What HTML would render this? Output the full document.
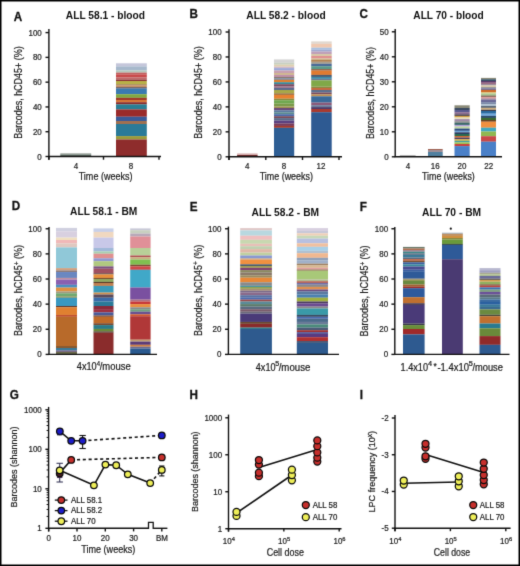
<!DOCTYPE html>
<html><head><meta charset="utf-8"><title>Figure</title>
<style>
html,body{margin:0;padding:0;background:#fff;}
body{width:520px;height:566px;overflow:hidden;}
svg{display:block;}
text{font-family:"Liberation Sans",sans-serif;}
text[font-weight="normal"],text:not([font-weight]){stroke:#1c1c1c;stroke-width:0.22px;}
</style></head>
<body>
<svg width="520" height="566" viewBox="0 0 520 566">
<defs><filter id="soft" x="0" y="0" width="520" height="566" filterUnits="userSpaceOnUse" color-interpolation-filters="sRGB"><feConvolveMatrix order="3" kernelMatrix="0.0121 0.0858 0.0121 0.0858 0.608 0.0858 0.0121 0.0858 0.0121" divisor="1" edgeMode="duplicate"/></filter></defs>
<g filter="url(#soft)">
<rect x="0" y="0" width="520" height="566" fill="#fff"/>
<text transform="translate(13.7,20.6) scale(0.9,1)" x="0" y="0" font-size="13.0" text-anchor="start" font-weight="bold" fill="#111" stroke="#111" stroke-width="0.3">A</text>
<text x="105.4" y="18.8" font-size="10" text-anchor="middle" font-weight="bold" fill="#111" textLength="79.2" lengthAdjust="spacingAndGlyphs" >ALL 58.1 - blood</text>
<text transform="translate(22.2,92.5) rotate(-90)" x="0" y="0" font-size="10.2" text-anchor="middle" fill="#1c1c1c" textLength="92.5" lengthAdjust="spacingAndGlyphs">Barcodes, hCD45+ (%)</text>
<rect x="60.30" y="153.30" width="30.90" height="1.25" fill="#9aa49c"/>
<rect x="60.30" y="154.50" width="30.90" height="2.05" fill="#5e6e64"/>
<rect x="116.00" y="63.30" width="30.80" height="3.15" fill="#c4c6da"/>
<rect x="116.00" y="66.40" width="30.80" height="4.05" fill="#a6b8cc"/>
<rect x="116.00" y="70.40" width="30.80" height="2.25" fill="#b4c8bc"/>
<rect x="116.00" y="72.60" width="30.80" height="1.75" fill="#c06060"/>
<rect x="116.00" y="74.30" width="30.80" height="3.15" fill="#c84a4a"/>
<rect x="116.00" y="77.40" width="30.80" height="2.25" fill="#c06868"/>
<rect x="116.00" y="79.60" width="30.80" height="1.45" fill="#8a3030"/>
<rect x="116.00" y="81.00" width="30.80" height="3.55" fill="#b8b048"/>
<rect x="116.00" y="84.50" width="30.80" height="0.95" fill="#8a5a30"/>
<rect x="116.00" y="85.40" width="30.80" height="1.85" fill="#c89060"/>
<rect x="116.00" y="87.20" width="30.80" height="1.35" fill="#5a4a50"/>
<rect x="116.00" y="88.50" width="30.80" height="5.75" fill="#3a7ab0"/>
<rect x="116.00" y="94.20" width="30.80" height="3.65" fill="#80a840"/>
<rect x="116.00" y="97.80" width="30.80" height="2.25" fill="#a03828"/>
<rect x="116.00" y="100.00" width="30.80" height="2.25" fill="#d87838"/>
<rect x="116.00" y="102.20" width="30.80" height="2.25" fill="#8a2a2a"/>
<rect x="116.00" y="104.40" width="30.80" height="5.05" fill="#2a7e94"/>
<rect x="116.00" y="109.40" width="30.80" height="7.35" fill="#9a2a2a"/>
<rect x="116.00" y="116.70" width="30.80" height="4.35" fill="#3a5a98"/>
<rect x="116.00" y="121.00" width="30.80" height="3.05" fill="#a07050"/>
<rect x="116.00" y="124.00" width="30.80" height="12.15" fill="#2a7a98"/>
<rect x="116.00" y="136.10" width="30.80" height="3.45" fill="#9a9a3a"/>
<rect x="116.00" y="139.50" width="30.80" height="17.05" fill="#8e2c2c"/>
<line x1="48.9" y1="29.0" x2="48.9" y2="159.7" stroke="#111" stroke-width="1.4" />
<line x1="45.5" y1="156.5" x2="48.9" y2="156.5" stroke="#111" stroke-width="1.4" />
<text transform="translate(41.8,159.5) scale(0.93,1)" x="0" y="0" font-size="8.6" text-anchor="end" font-weight="normal" fill="#1c1c1c" >0</text>
<line x1="45.5" y1="131.72" x2="48.9" y2="131.72" stroke="#111" stroke-width="1.4" />
<text transform="translate(41.8,134.72) scale(0.93,1)" x="0" y="0" font-size="8.6" text-anchor="end" font-weight="normal" fill="#1c1c1c" >20</text>
<line x1="45.5" y1="106.94" x2="48.9" y2="106.94" stroke="#111" stroke-width="1.4" />
<text transform="translate(41.8,109.94) scale(0.93,1)" x="0" y="0" font-size="8.6" text-anchor="end" font-weight="normal" fill="#1c1c1c" >40</text>
<line x1="45.5" y1="82.16" x2="48.9" y2="82.16" stroke="#111" stroke-width="1.4" />
<text transform="translate(41.8,85.16) scale(0.93,1)" x="0" y="0" font-size="8.6" text-anchor="end" font-weight="normal" fill="#1c1c1c" >60</text>
<line x1="45.5" y1="57.379999999999995" x2="48.9" y2="57.379999999999995" stroke="#111" stroke-width="1.4" />
<text transform="translate(41.8,60.379999999999995) scale(0.93,1)" x="0" y="0" font-size="8.6" text-anchor="end" font-weight="normal" fill="#1c1c1c" >80</text>
<line x1="45.5" y1="32.599999999999994" x2="48.9" y2="32.599999999999994" stroke="#111" stroke-width="1.4" />
<text transform="translate(41.8,35.599999999999994) scale(0.93,1)" x="0" y="0" font-size="8.6" text-anchor="end" font-weight="normal" fill="#1c1c1c" >100</text>
<line x1="48.3" y1="156.5" x2="161.0" y2="156.5" stroke="#111" stroke-width="1.4" />
<line x1="48.9" y1="156.5" x2="48.9" y2="159.7" stroke="#111" stroke-width="1.4" />
<line x1="103.5" y1="156.5" x2="103.5" y2="159.7" stroke="#111" stroke-width="1.4" />
<line x1="159.0" y1="156.5" x2="159.0" y2="159.7" stroke="#111" stroke-width="1.4" />
<text transform="translate(76.0,169.2) scale(0.93,1)" x="0" y="0" font-size="8.6" text-anchor="middle" font-weight="normal" fill="#1c1c1c" >4</text>
<text transform="translate(131.0,169.2) scale(0.93,1)" x="0" y="0" font-size="8.6" text-anchor="middle" font-weight="normal" fill="#1c1c1c" >8</text>
<text x="105.6" y="180.0" font-size="10.3" text-anchor="middle" font-weight="normal" fill="#1c1c1c" textLength="53.8" lengthAdjust="spacingAndGlyphs" >Time (weeks)</text>
<text transform="translate(189.6,17.8) scale(0.9,1)" x="0" y="0" font-size="13.0" text-anchor="start" font-weight="bold" fill="#111" stroke="#111" stroke-width="0.3">B</text>
<text x="286.0" y="18.5" font-size="10" text-anchor="middle" font-weight="bold" fill="#111" textLength="79.3" lengthAdjust="spacingAndGlyphs" >ALL 58.2 - blood</text>
<text transform="translate(202.0,92.5) rotate(-90)" x="0" y="0" font-size="10.2" text-anchor="middle" fill="#1c1c1c" textLength="92.5" lengthAdjust="spacingAndGlyphs">Barcodes, hCD45+ (%)</text>
<rect x="237.10" y="153.40" width="20.50" height="1.65" fill="#d8b0b0"/>
<rect x="237.10" y="155.00" width="20.50" height="1.85" fill="#6a2a2a"/>
<rect x="274.00" y="59.40" width="20.20" height="3.45" fill="#d4d4d4"/>
<rect x="274.00" y="62.80" width="20.20" height="1.95" fill="#c8d0c0"/>
<rect x="274.00" y="64.70" width="20.20" height="2.05" fill="#e0d0b0"/>
<rect x="274.00" y="66.70" width="20.20" height="1.45" fill="#d0b8c8"/>
<rect x="274.00" y="68.10" width="20.20" height="2.45" fill="#9aa8d8"/>
<rect x="274.00" y="70.50" width="20.20" height="2.55" fill="#c8a0b0"/>
<rect x="274.00" y="73.00" width="20.20" height="1.95" fill="#d0b890"/>
<rect x="274.00" y="74.90" width="20.20" height="2.05" fill="#c090a8"/>
<rect x="274.00" y="76.90" width="20.20" height="1.45" fill="#8a7a70"/>
<rect x="274.00" y="78.30" width="20.20" height="1.55" fill="#6a80a0"/>
<rect x="274.00" y="79.80" width="20.20" height="2.45" fill="#e08030"/>
<rect x="274.00" y="82.20" width="20.20" height="2.05" fill="#3a8a9a"/>
<rect x="274.00" y="84.20" width="20.20" height="1.95" fill="#7a4a60"/>
<rect x="274.00" y="86.10" width="20.20" height="1.95" fill="#a07890"/>
<rect x="274.00" y="88.00" width="20.20" height="2.05" fill="#5a6a90"/>
<rect x="274.00" y="90.00" width="20.20" height="3.45" fill="#a8a848"/>
<rect x="274.00" y="93.40" width="20.20" height="1.45" fill="#8a6030"/>
<rect x="274.00" y="94.80" width="20.20" height="3.95" fill="#e88030"/>
<rect x="274.00" y="98.70" width="20.20" height="1.55" fill="#8a8a40"/>
<rect x="274.00" y="100.20" width="20.20" height="3.45" fill="#70a850"/>
<rect x="274.00" y="103.60" width="20.20" height="2.95" fill="#7a9a48"/>
<rect x="274.00" y="106.50" width="20.20" height="1.55" fill="#a09050"/>
<rect x="274.00" y="108.00" width="20.20" height="2.35" fill="#6a4a7a"/>
<rect x="274.00" y="110.30" width="20.20" height="2.05" fill="#5a7aa0"/>
<rect x="274.00" y="112.30" width="20.20" height="1.95" fill="#5a8a90"/>
<rect x="274.00" y="114.20" width="20.20" height="2.05" fill="#4a6aa8"/>
<rect x="274.00" y="116.20" width="20.20" height="1.95" fill="#7a4a5a"/>
<rect x="274.00" y="118.10" width="20.20" height="2.45" fill="#5a6a88"/>
<rect x="274.00" y="120.50" width="20.20" height="3.05" fill="#5a4080"/>
<rect x="274.00" y="123.50" width="20.20" height="2.45" fill="#7a3a5a"/>
<rect x="274.00" y="125.90" width="20.20" height="1.95" fill="#a83a2a"/>
<rect x="274.00" y="127.80" width="20.20" height="29.05" fill="#2e5e94"/>
<rect x="311.20" y="41.40" width="20.50" height="2.45" fill="#e0d8d0"/>
<rect x="311.20" y="43.80" width="20.50" height="3.95" fill="#f0c8b0"/>
<rect x="311.20" y="47.70" width="20.50" height="2.05" fill="#a8c0e0"/>
<rect x="311.20" y="49.70" width="20.50" height="1.95" fill="#a0a8d0"/>
<rect x="311.20" y="51.60" width="20.50" height="2.45" fill="#c0a0b8"/>
<rect x="311.20" y="54.00" width="20.50" height="2.05" fill="#d8c8a8"/>
<rect x="311.20" y="56.00" width="20.50" height="2.45" fill="#e09090"/>
<rect x="311.20" y="58.40" width="20.50" height="1.55" fill="#d0b890"/>
<rect x="311.20" y="59.90" width="20.50" height="1.95" fill="#b08050"/>
<rect x="311.20" y="61.80" width="20.50" height="2.05" fill="#a8a090"/>
<rect x="311.20" y="63.80" width="20.50" height="2.45" fill="#4a6a98"/>
<rect x="311.20" y="66.20" width="20.50" height="2.95" fill="#5a9a8a"/>
<rect x="311.20" y="69.10" width="20.50" height="1.55" fill="#8a5a40"/>
<rect x="311.20" y="70.60" width="20.50" height="4.35" fill="#e07a30"/>
<rect x="311.20" y="74.90" width="20.50" height="2.05" fill="#4a5a70"/>
<rect x="311.20" y="76.90" width="20.50" height="1.95" fill="#3a8aa8"/>
<rect x="311.20" y="78.80" width="20.50" height="1.55" fill="#6a7a98"/>
<rect x="311.20" y="80.30" width="20.50" height="6.35" fill="#80a848"/>
<rect x="311.20" y="86.60" width="20.50" height="1.45" fill="#8a8a40"/>
<rect x="311.20" y="88.00" width="20.50" height="2.05" fill="#c86a40"/>
<rect x="311.20" y="90.00" width="20.50" height="2.55" fill="#5a7090"/>
<rect x="311.20" y="92.50" width="20.50" height="1.95" fill="#7a4a5a"/>
<rect x="311.20" y="94.40" width="20.50" height="1.95" fill="#c09050"/>
<rect x="311.20" y="96.30" width="20.50" height="6.35" fill="#3a6a9a"/>
<rect x="311.20" y="102.60" width="20.50" height="2.65" fill="#8a5a7a"/>
<rect x="311.20" y="105.20" width="20.50" height="1.95" fill="#6a7a98"/>
<rect x="311.20" y="107.10" width="20.50" height="1.95" fill="#4a3a6a"/>
<rect x="311.20" y="109.00" width="20.50" height="3.25" fill="#a83a30"/>
<rect x="311.20" y="112.20" width="20.50" height="44.65" fill="#2e5a92"/>
<line x1="229.0" y1="29.3" x2="229.0" y2="160.0" stroke="#111" stroke-width="1.4" />
<line x1="225.6" y1="156.8" x2="229.0" y2="156.8" stroke="#111" stroke-width="1.4" />
<text transform="translate(221.6,159.8) scale(0.93,1)" x="0" y="0" font-size="8.6" text-anchor="end" font-weight="normal" fill="#1c1c1c" >0</text>
<line x1="225.6" y1="131.84" x2="229.0" y2="131.84" stroke="#111" stroke-width="1.4" />
<text transform="translate(221.6,134.84) scale(0.93,1)" x="0" y="0" font-size="8.6" text-anchor="end" font-weight="normal" fill="#1c1c1c" >20</text>
<line x1="225.6" y1="106.88" x2="229.0" y2="106.88" stroke="#111" stroke-width="1.4" />
<text transform="translate(221.6,109.88) scale(0.93,1)" x="0" y="0" font-size="8.6" text-anchor="end" font-weight="normal" fill="#1c1c1c" >40</text>
<line x1="225.6" y1="81.92" x2="229.0" y2="81.92" stroke="#111" stroke-width="1.4" />
<text transform="translate(221.6,84.92) scale(0.93,1)" x="0" y="0" font-size="8.6" text-anchor="end" font-weight="normal" fill="#1c1c1c" >60</text>
<line x1="225.6" y1="56.959999999999994" x2="229.0" y2="56.959999999999994" stroke="#111" stroke-width="1.4" />
<text transform="translate(221.6,59.959999999999994) scale(0.93,1)" x="0" y="0" font-size="8.6" text-anchor="end" font-weight="normal" fill="#1c1c1c" >80</text>
<line x1="225.6" y1="31.999999999999986" x2="229.0" y2="31.999999999999986" stroke="#111" stroke-width="1.4" />
<text transform="translate(221.6,34.999999999999986) scale(0.93,1)" x="0" y="0" font-size="8.6" text-anchor="end" font-weight="normal" fill="#1c1c1c" >100</text>
<line x1="228.4" y1="156.8" x2="342.0" y2="156.8" stroke="#111" stroke-width="1.4" />
<line x1="229.0" y1="156.8" x2="229.0" y2="160.0" stroke="#111" stroke-width="1.4" />
<line x1="265.8" y1="156.8" x2="265.8" y2="160.0" stroke="#111" stroke-width="1.4" />
<line x1="302.5" y1="156.8" x2="302.5" y2="160.0" stroke="#111" stroke-width="1.4" />
<line x1="339.0" y1="156.8" x2="339.0" y2="160.0" stroke="#111" stroke-width="1.4" />
<text transform="translate(247.3,169.2) scale(0.93,1)" x="0" y="0" font-size="8.6" text-anchor="middle" font-weight="normal" fill="#1c1c1c" >4</text>
<text transform="translate(284.0,169.2) scale(0.93,1)" x="0" y="0" font-size="8.6" text-anchor="middle" font-weight="normal" fill="#1c1c1c" >8</text>
<text transform="translate(321.0,169.2) scale(0.93,1)" x="0" y="0" font-size="8.6" text-anchor="middle" font-weight="normal" fill="#1c1c1c" >12</text>
<text x="286.3" y="180.0" font-size="10.3" text-anchor="middle" font-weight="normal" fill="#1c1c1c" textLength="53.2" lengthAdjust="spacingAndGlyphs" >Time (weeks)</text>
<text transform="translate(359.6,17.7) scale(0.9,1)" x="0" y="0" font-size="13.0" text-anchor="start" font-weight="bold" fill="#111" stroke="#111" stroke-width="0.3">C</text>
<text x="448.5" y="18.5" font-size="10" text-anchor="middle" font-weight="bold" fill="#111" textLength="70.4" lengthAdjust="spacingAndGlyphs" >ALL 70 - blood</text>
<text transform="translate(373.6,93.1) rotate(-90)" x="0" y="0" font-size="10.2" text-anchor="middle" fill="#1c1c1c" textLength="92.0" lengthAdjust="spacingAndGlyphs">Barcodes, hCD45+ (%)</text>
<rect x="399.80" y="155.60" width="15.80" height="1.25" fill="#505050"/>
<rect x="428.00" y="149.00" width="14.70" height="1.05" fill="#a06050"/>
<rect x="428.00" y="150.00" width="14.70" height="2.05" fill="#a09098"/>
<rect x="428.00" y="152.00" width="14.70" height="4.85" fill="#5080a0"/>
<rect x="454.50" y="105.30" width="15.20" height="2.75" fill="#8a8a78"/>
<rect x="454.50" y="108.00" width="15.20" height="2.05" fill="#3a4a60"/>
<rect x="454.50" y="110.00" width="15.20" height="2.25" fill="#5a5a90"/>
<rect x="454.50" y="112.20" width="15.20" height="2.15" fill="#8a6a90"/>
<rect x="454.50" y="114.30" width="15.20" height="1.65" fill="#4a4050"/>
<rect x="454.50" y="115.90" width="15.20" height="1.65" fill="#d0a040"/>
<rect x="454.50" y="117.50" width="15.20" height="1.65" fill="#e8e0c0"/>
<rect x="454.50" y="119.10" width="15.20" height="2.15" fill="#a08aa8"/>
<rect x="454.50" y="121.20" width="15.20" height="1.65" fill="#8a8a8a"/>
<rect x="454.50" y="122.80" width="15.20" height="2.15" fill="#3a6a6a"/>
<rect x="454.50" y="124.90" width="15.20" height="1.65" fill="#b0a0d8"/>
<rect x="454.50" y="126.50" width="15.20" height="2.15" fill="#c0d8a0"/>
<rect x="454.50" y="128.60" width="15.20" height="2.25" fill="#2a4a80"/>
<rect x="454.50" y="130.80" width="15.20" height="1.55" fill="#70a8d8"/>
<rect x="454.50" y="132.30" width="15.20" height="1.75" fill="#2a3a60"/>
<rect x="454.50" y="134.00" width="15.20" height="2.05" fill="#2a6a50"/>
<rect x="454.50" y="136.00" width="15.20" height="1.65" fill="#d06a30"/>
<rect x="454.50" y="137.60" width="15.20" height="1.65" fill="#4a3a60"/>
<rect x="454.50" y="139.20" width="15.20" height="1.65" fill="#d8b040"/>
<rect x="454.50" y="140.80" width="15.20" height="1.65" fill="#40a0a0"/>
<rect x="454.50" y="142.40" width="15.20" height="1.65" fill="#a0c050"/>
<rect x="454.50" y="144.00" width="15.20" height="2.15" fill="#c84040"/>
<rect x="454.50" y="146.10" width="15.20" height="10.75" fill="#4a80c8"/>
<rect x="481.00" y="77.90" width="15.00" height="1.45" fill="#8a8a78"/>
<rect x="481.00" y="79.30" width="15.00" height="1.65" fill="#2a4a60"/>
<rect x="481.00" y="80.90" width="15.00" height="1.75" fill="#5a3a6a"/>
<rect x="481.00" y="82.60" width="15.00" height="1.25" fill="#8a4a6a"/>
<rect x="481.00" y="83.80" width="15.00" height="1.65" fill="#9a8a9a"/>
<rect x="481.00" y="85.40" width="15.00" height="1.65" fill="#d8c8a8"/>
<rect x="481.00" y="87.00" width="15.00" height="1.35" fill="#9a9a9a"/>
<rect x="481.00" y="88.30" width="15.00" height="1.65" fill="#6a6a98"/>
<rect x="481.00" y="89.90" width="15.00" height="2.45" fill="#d06a28"/>
<rect x="481.00" y="92.30" width="15.00" height="1.25" fill="#d8c070"/>
<rect x="481.00" y="93.50" width="15.00" height="2.15" fill="#a8c890"/>
<rect x="481.00" y="95.60" width="15.00" height="1.25" fill="#6a4a3a"/>
<rect x="481.00" y="96.80" width="15.00" height="1.65" fill="#e0a0a0"/>
<rect x="481.00" y="98.40" width="15.00" height="1.25" fill="#a07a8a"/>
<rect x="481.00" y="99.60" width="15.00" height="2.55" fill="#6a6a98"/>
<rect x="481.00" y="102.10" width="15.00" height="2.05" fill="#7a8aa8"/>
<rect x="481.00" y="104.10" width="15.00" height="2.05" fill="#b0c0d0"/>
<rect x="481.00" y="106.10" width="15.00" height="1.75" fill="#4a5a6a"/>
<rect x="481.00" y="107.80" width="15.00" height="2.05" fill="#d0b080"/>
<rect x="481.00" y="109.80" width="15.00" height="1.25" fill="#3a3a4a"/>
<rect x="481.00" y="111.00" width="15.00" height="2.75" fill="#2a6aa0"/>
<rect x="481.00" y="113.70" width="15.00" height="2.15" fill="#70a8e0"/>
<rect x="481.00" y="115.80" width="15.00" height="2.15" fill="#2a4a6a"/>
<rect x="481.00" y="117.90" width="15.00" height="2.15" fill="#3a6a30"/>
<rect x="481.00" y="120.00" width="15.00" height="1.75" fill="#6a4020"/>
<rect x="481.00" y="121.70" width="15.00" height="6.05" fill="#f09040"/>
<rect x="481.00" y="127.70" width="15.00" height="3.85" fill="#40a8c0"/>
<rect x="481.00" y="131.50" width="15.00" height="4.75" fill="#90b850"/>
<rect x="481.00" y="136.20" width="15.00" height="5.55" fill="#c84848"/>
<rect x="481.00" y="141.70" width="15.00" height="15.15" fill="#4a80c8"/>
<line x1="395.2" y1="29.0" x2="395.2" y2="156.8" stroke="#111" stroke-width="1.4" />
<line x1="391.8" y1="156.8" x2="395.2" y2="156.8" stroke="#111" stroke-width="1.4" />
<text transform="translate(388.6,159.8) scale(0.93,1)" x="0" y="0" font-size="8.6" text-anchor="end" font-weight="normal" fill="#1c1c1c" >0</text>
<line x1="391.8" y1="131.8" x2="395.2" y2="131.8" stroke="#111" stroke-width="1.4" />
<text transform="translate(388.6,134.8) scale(0.93,1)" x="0" y="0" font-size="8.6" text-anchor="end" font-weight="normal" fill="#1c1c1c" >10</text>
<line x1="391.8" y1="106.80000000000001" x2="395.2" y2="106.80000000000001" stroke="#111" stroke-width="1.4" />
<text transform="translate(388.6,109.80000000000001) scale(0.93,1)" x="0" y="0" font-size="8.6" text-anchor="end" font-weight="normal" fill="#1c1c1c" >20</text>
<line x1="391.8" y1="81.8" x2="395.2" y2="81.8" stroke="#111" stroke-width="1.4" />
<text transform="translate(388.6,84.8) scale(0.93,1)" x="0" y="0" font-size="8.6" text-anchor="end" font-weight="normal" fill="#1c1c1c" >30</text>
<line x1="391.8" y1="56.8" x2="395.2" y2="56.8" stroke="#111" stroke-width="1.4" />
<text transform="translate(388.6,59.8) scale(0.93,1)" x="0" y="0" font-size="8.6" text-anchor="end" font-weight="normal" fill="#1c1c1c" >40</text>
<line x1="391.8" y1="31.799999999999983" x2="395.2" y2="31.799999999999983" stroke="#111" stroke-width="1.4" />
<text transform="translate(388.6,34.79999999999998) scale(0.93,1)" x="0" y="0" font-size="8.6" text-anchor="end" font-weight="normal" fill="#1c1c1c" >50</text>
<line x1="394.59999999999997" y1="156.8" x2="502.0" y2="156.8" stroke="#111" stroke-width="1.4" />
<text transform="translate(407.9,169.2) scale(0.93,1)" x="0" y="0" font-size="8.6" text-anchor="middle" font-weight="normal" fill="#1c1c1c" >4</text>
<text transform="translate(435.2,169.2) scale(0.93,1)" x="0" y="0" font-size="8.6" text-anchor="middle" font-weight="normal" fill="#1c1c1c" >16</text>
<text transform="translate(462.0,169.2) scale(0.93,1)" x="0" y="0" font-size="8.6" text-anchor="middle" font-weight="normal" fill="#1c1c1c" >20</text>
<text transform="translate(488.7,169.2) scale(0.93,1)" x="0" y="0" font-size="8.6" text-anchor="middle" font-weight="normal" fill="#1c1c1c" >22</text>
<text x="448.4" y="180.0" font-size="10.3" text-anchor="middle" font-weight="normal" fill="#1c1c1c" textLength="52.8" lengthAdjust="spacingAndGlyphs" >Time (weeks)</text>
<text transform="translate(11.7,210.0) scale(0.9,1)" x="0" y="0" font-size="13.0" text-anchor="start" font-weight="bold" fill="#111" stroke="#111" stroke-width="0.3">D</text>
<text x="103.7" y="215.4" font-size="10" text-anchor="middle" font-weight="bold" fill="#111" textLength="67.3" lengthAdjust="spacingAndGlyphs" >ALL 58.1 - BM</text>
<text transform="translate(22.2,290.55) rotate(-90)" x="0" y="0" font-size="10.2" text-anchor="middle" fill="#1c1c1c" textLength="91.1" lengthAdjust="spacingAndGlyphs">Barcodes, hCD45<tspan font-size="7.2" dy="-3.4">+</tspan><tspan dy="3.4"> (%)</tspan></text>
<rect x="56.00" y="227.90" width="21.00" height="3.45" fill="#d0d0e0"/>
<rect x="56.00" y="231.30" width="21.00" height="6.35" fill="#d8d0e0"/>
<rect x="56.00" y="237.60" width="21.00" height="2.45" fill="#f0e0c0"/>
<rect x="56.00" y="240.00" width="21.00" height="3.45" fill="#f0b8b8"/>
<rect x="56.00" y="243.40" width="21.00" height="4.05" fill="#e0c8c0"/>
<rect x="56.00" y="247.40" width="21.00" height="20.75" fill="#90c8d8"/>
<rect x="56.00" y="268.10" width="21.00" height="2.35" fill="#d0a080"/>
<rect x="56.00" y="270.40" width="21.00" height="1.75" fill="#8a7a7a"/>
<rect x="56.00" y="272.10" width="21.00" height="1.85" fill="#6080c0"/>
<rect x="56.00" y="273.90" width="21.00" height="4.05" fill="#6a88c0"/>
<rect x="56.00" y="277.90" width="21.00" height="1.75" fill="#c090a0"/>
<rect x="56.00" y="279.60" width="21.00" height="5.25" fill="#8a60b0"/>
<rect x="56.00" y="284.80" width="21.00" height="2.85" fill="#4a90c0"/>
<rect x="56.00" y="287.60" width="21.00" height="3.85" fill="#e09040"/>
<rect x="56.00" y="291.40" width="21.00" height="1.95" fill="#a09a80"/>
<rect x="56.00" y="293.30" width="21.00" height="3.25" fill="#70a870"/>
<rect x="56.00" y="296.50" width="21.00" height="1.25" fill="#8a8a40"/>
<rect x="56.00" y="297.70" width="21.00" height="8.35" fill="#3a98c0"/>
<rect x="56.00" y="306.00" width="21.00" height="1.35" fill="#6a3a2a"/>
<rect x="56.00" y="307.30" width="21.00" height="7.65" fill="#e08030"/>
<rect x="56.00" y="314.90" width="21.00" height="1.95" fill="#c05030"/>
<rect x="56.00" y="316.80" width="21.00" height="29.25" fill="#b86a2a"/>
<rect x="56.00" y="346.00" width="21.00" height="2.05" fill="#8a5a30"/>
<rect x="56.00" y="348.00" width="21.00" height="2.55" fill="#3a7a98"/>
<rect x="56.00" y="350.50" width="21.00" height="1.35" fill="#6a5080"/>
<rect x="56.00" y="351.80" width="21.00" height="2.65" fill="#6a6a4a"/>
<rect x="93.50" y="228.40" width="20.00" height="3.55" fill="#c8d0e8"/>
<rect x="93.50" y="231.90" width="20.00" height="5.75" fill="#f0d8c0"/>
<rect x="93.50" y="237.60" width="20.00" height="10.45" fill="#c8c8e8"/>
<rect x="93.50" y="248.00" width="20.00" height="3.45" fill="#a0b8d8"/>
<rect x="93.50" y="251.40" width="20.00" height="2.35" fill="#a8d0b0"/>
<rect x="93.50" y="253.70" width="20.00" height="4.65" fill="#e09090"/>
<rect x="93.50" y="258.30" width="20.00" height="2.95" fill="#9098d0"/>
<rect x="93.50" y="261.20" width="20.00" height="5.25" fill="#b0c880"/>
<rect x="93.50" y="266.40" width="20.00" height="2.35" fill="#7a5080"/>
<rect x="93.50" y="268.70" width="20.00" height="4.65" fill="#a05060"/>
<rect x="93.50" y="273.30" width="20.00" height="1.15" fill="#5a3a3a"/>
<rect x="93.50" y="274.40" width="20.00" height="3.55" fill="#e8903a"/>
<rect x="93.50" y="277.90" width="20.00" height="1.15" fill="#7a5030"/>
<rect x="93.50" y="279.00" width="20.00" height="2.95" fill="#90a860"/>
<rect x="93.50" y="281.90" width="20.00" height="1.15" fill="#5a3a2a"/>
<rect x="93.50" y="283.00" width="20.00" height="2.95" fill="#c08050"/>
<rect x="93.50" y="285.90" width="20.00" height="6.75" fill="#3a9ab8"/>
<rect x="93.50" y="292.60" width="20.00" height="1.95" fill="#d09050"/>
<rect x="93.50" y="294.50" width="20.00" height="3.25" fill="#5a4a5a"/>
<rect x="93.50" y="297.70" width="20.00" height="3.85" fill="#3a6aa8"/>
<rect x="93.50" y="301.50" width="20.00" height="4.55" fill="#2a7a98"/>
<rect x="93.50" y="306.00" width="20.00" height="3.85" fill="#8a2a3a"/>
<rect x="93.50" y="309.80" width="20.00" height="2.65" fill="#a03040"/>
<rect x="93.50" y="312.40" width="20.00" height="3.15" fill="#4a5a98"/>
<rect x="93.50" y="315.50" width="20.00" height="1.35" fill="#7a4a30"/>
<rect x="93.50" y="316.80" width="20.00" height="6.45" fill="#c06a28"/>
<rect x="93.50" y="323.20" width="20.00" height="1.95" fill="#7a4a30"/>
<rect x="93.50" y="325.10" width="20.00" height="3.85" fill="#2a7a88"/>
<rect x="93.50" y="328.90" width="20.00" height="2.55" fill="#6a8a3a"/>
<rect x="93.50" y="331.40" width="20.00" height="1.35" fill="#4a3a2a"/>
<rect x="93.50" y="332.70" width="20.00" height="21.75" fill="#8a2c2c"/>
<rect x="130.20" y="228.40" width="20.40" height="1.85" fill="#c8c8d8"/>
<rect x="130.20" y="230.20" width="20.40" height="3.45" fill="#c8d0c0"/>
<rect x="130.20" y="233.60" width="20.40" height="2.95" fill="#b8a8b8"/>
<rect x="130.20" y="236.50" width="20.40" height="11.55" fill="#e09098"/>
<rect x="130.20" y="248.00" width="20.40" height="7.55" fill="#b8d098"/>
<rect x="130.20" y="255.50" width="20.40" height="1.75" fill="#b05050"/>
<rect x="130.20" y="257.20" width="20.40" height="2.35" fill="#c8b080"/>
<rect x="130.20" y="259.50" width="20.40" height="5.25" fill="#80c050"/>
<rect x="130.20" y="264.70" width="20.40" height="1.75" fill="#7a4a30"/>
<rect x="130.20" y="266.40" width="20.40" height="3.45" fill="#d04848"/>
<rect x="130.20" y="269.80" width="20.40" height="17.75" fill="#40a8c8"/>
<rect x="130.20" y="287.50" width="20.40" height="12.15" fill="#7a50a0"/>
<rect x="130.20" y="299.60" width="20.40" height="1.95" fill="#b07080"/>
<rect x="130.20" y="301.50" width="20.40" height="2.65" fill="#c83838"/>
<rect x="130.20" y="304.10" width="20.40" height="3.25" fill="#e89040"/>
<rect x="130.20" y="307.30" width="20.40" height="1.95" fill="#8a8a8a"/>
<rect x="130.20" y="309.20" width="20.40" height="2.55" fill="#70a080"/>
<rect x="130.20" y="311.70" width="20.40" height="2.65" fill="#6a5090"/>
<rect x="130.20" y="314.30" width="20.40" height="1.95" fill="#d05a30"/>
<rect x="130.20" y="316.20" width="20.40" height="23.55" fill="#b03838"/>
<rect x="130.20" y="339.70" width="20.40" height="1.95" fill="#c0a070"/>
<rect x="130.20" y="341.60" width="20.40" height="3.25" fill="#5a3a78"/>
<rect x="130.20" y="344.80" width="20.40" height="1.95" fill="#d08040"/>
<rect x="130.20" y="346.70" width="20.40" height="1.95" fill="#6a6a90"/>
<rect x="130.20" y="348.60" width="20.40" height="5.85" fill="#2a5a90"/>
<line x1="49.0" y1="227.0" x2="49.0" y2="354.4" stroke="#111" stroke-width="1.4" />
<line x1="45.6" y1="354.4" x2="49.0" y2="354.4" stroke="#111" stroke-width="1.4" />
<text transform="translate(41.6,357.4) scale(0.93,1)" x="0" y="0" font-size="8.6" text-anchor="end" font-weight="normal" fill="#1c1c1c" >0</text>
<line x1="45.6" y1="329.27" x2="49.0" y2="329.27" stroke="#111" stroke-width="1.4" />
<text transform="translate(41.6,332.27) scale(0.93,1)" x="0" y="0" font-size="8.6" text-anchor="end" font-weight="normal" fill="#1c1c1c" >20</text>
<line x1="45.6" y1="304.14" x2="49.0" y2="304.14" stroke="#111" stroke-width="1.4" />
<text transform="translate(41.6,307.14) scale(0.93,1)" x="0" y="0" font-size="8.6" text-anchor="end" font-weight="normal" fill="#1c1c1c" >40</text>
<line x1="45.6" y1="279.01" x2="49.0" y2="279.01" stroke="#111" stroke-width="1.4" />
<text transform="translate(41.6,282.01) scale(0.93,1)" x="0" y="0" font-size="8.6" text-anchor="end" font-weight="normal" fill="#1c1c1c" >60</text>
<line x1="45.6" y1="253.88" x2="49.0" y2="253.88" stroke="#111" stroke-width="1.4" />
<text transform="translate(41.6,256.88) scale(0.93,1)" x="0" y="0" font-size="8.6" text-anchor="end" font-weight="normal" fill="#1c1c1c" >80</text>
<line x1="45.6" y1="228.75" x2="49.0" y2="228.75" stroke="#111" stroke-width="1.4" />
<text transform="translate(41.6,231.75) scale(0.93,1)" x="0" y="0" font-size="8.6" text-anchor="end" font-weight="normal" fill="#1c1c1c" >100</text>
<line x1="48.4" y1="354.4" x2="157.0" y2="354.4" stroke="#111" stroke-width="1.4" />
<text x="76.79" y="370.4" font-size="10.2" fill="#1c1c1c" textLength="19.92" lengthAdjust="spacingAndGlyphs">4x10</text>
<text x="96.77" y="366.0" font-size="6.6" fill="#1c1c1c" textLength="3.36" lengthAdjust="spacingAndGlyphs">4</text>
<text x="99.69" y="370.4" font-size="10.2" fill="#1c1c1c" textLength="31.02" lengthAdjust="spacingAndGlyphs">/mouse</text>
<text transform="translate(189.8,210.6) scale(0.9,1)" x="0" y="0" font-size="13.0" text-anchor="start" font-weight="bold" fill="#111" stroke="#111" stroke-width="0.3">E</text>
<text x="285.3" y="215.8" font-size="10" text-anchor="middle" font-weight="bold" fill="#111" textLength="67.5" lengthAdjust="spacingAndGlyphs" >ALL 58.2 - BM</text>
<text transform="translate(201.7,290.4) rotate(-90)" x="0" y="0" font-size="10.2" text-anchor="middle" fill="#1c1c1c" textLength="91.1" lengthAdjust="spacingAndGlyphs">Barcodes, hCD45<tspan font-size="7.2" dy="-3.4">+</tspan><tspan dy="3.4"> (%)</tspan></text>
<rect x="240.20" y="228.10" width="31.70" height="2.35" fill="#e0c8c8"/>
<rect x="240.20" y="230.40" width="31.70" height="5.35" fill="#b8d8e0"/>
<rect x="240.20" y="235.70" width="31.70" height="4.15" fill="#f0c0c0"/>
<rect x="240.20" y="239.80" width="31.70" height="4.05" fill="#c8d8b0"/>
<rect x="240.20" y="243.80" width="31.70" height="2.45" fill="#e8c0b8"/>
<rect x="240.20" y="246.20" width="31.70" height="2.95" fill="#c0d0b0"/>
<rect x="240.20" y="249.10" width="31.70" height="3.55" fill="#e0b8a8"/>
<rect x="240.20" y="252.60" width="31.70" height="2.95" fill="#c0d0a0"/>
<rect x="240.20" y="255.50" width="31.70" height="2.95" fill="#8898d0"/>
<rect x="240.20" y="258.40" width="31.70" height="1.25" fill="#c0a080"/>
<rect x="240.20" y="259.60" width="31.70" height="4.75" fill="#f09040"/>
<rect x="240.20" y="264.30" width="31.70" height="1.75" fill="#4a5a6a"/>
<rect x="240.20" y="266.00" width="31.70" height="1.85" fill="#a0a050"/>
<rect x="240.20" y="267.80" width="31.70" height="2.35" fill="#804070"/>
<rect x="240.20" y="270.10" width="31.70" height="2.35" fill="#8a8a60"/>
<rect x="240.20" y="272.40" width="31.70" height="2.95" fill="#8a7a6a"/>
<rect x="240.20" y="275.30" width="31.70" height="2.45" fill="#9a8a60"/>
<rect x="240.20" y="277.70" width="31.70" height="4.65" fill="#e88838"/>
<rect x="240.20" y="282.30" width="31.70" height="3.55" fill="#8a8a8a"/>
<rect x="240.20" y="285.80" width="31.70" height="1.15" fill="#3a90a8"/>
<rect x="240.20" y="286.90" width="31.70" height="1.95" fill="#90a050"/>
<rect x="240.20" y="288.80" width="31.70" height="1.95" fill="#a89070"/>
<rect x="240.20" y="290.70" width="31.70" height="1.95" fill="#7a6a8a"/>
<rect x="240.20" y="292.60" width="31.70" height="2.65" fill="#8a6a8a"/>
<rect x="240.20" y="295.20" width="31.70" height="2.55" fill="#5a70a0"/>
<rect x="240.20" y="297.70" width="31.70" height="1.95" fill="#4a6ab0"/>
<rect x="240.20" y="299.60" width="31.70" height="1.95" fill="#9a4a4a"/>
<rect x="240.20" y="301.50" width="31.70" height="2.65" fill="#5a8a98"/>
<rect x="240.20" y="304.10" width="31.70" height="2.55" fill="#5a7a6a"/>
<rect x="240.20" y="306.60" width="31.70" height="2.65" fill="#5a6a80"/>
<rect x="240.20" y="309.20" width="31.70" height="2.55" fill="#7a5a6a"/>
<rect x="240.20" y="311.70" width="31.70" height="1.95" fill="#6a6a7a"/>
<rect x="240.20" y="313.60" width="31.70" height="8.35" fill="#4a3a78"/>
<rect x="240.20" y="321.90" width="31.70" height="1.95" fill="#6a4a30"/>
<rect x="240.20" y="323.80" width="31.70" height="3.85" fill="#8a2a2a"/>
<rect x="240.20" y="327.60" width="31.70" height="1.35" fill="#2a7a88"/>
<rect x="240.20" y="328.90" width="31.70" height="25.55" fill="#2e5a8e"/>
<rect x="296.80" y="228.10" width="31.20" height="2.95" fill="#d8d0e0"/>
<rect x="296.80" y="231.00" width="31.20" height="2.35" fill="#c8c8d8"/>
<rect x="296.80" y="233.30" width="31.20" height="2.45" fill="#f0d0b8"/>
<rect x="296.80" y="235.70" width="31.20" height="2.95" fill="#c8d8b8"/>
<rect x="296.80" y="238.60" width="31.20" height="4.75" fill="#b8c0e0"/>
<rect x="296.80" y="243.30" width="31.20" height="3.55" fill="#f0c0a0"/>
<rect x="296.80" y="246.80" width="31.20" height="4.05" fill="#a8d0e8"/>
<rect x="296.80" y="250.80" width="31.20" height="2.45" fill="#b0c0d0"/>
<rect x="296.80" y="253.20" width="31.20" height="4.65" fill="#f0b890"/>
<rect x="296.80" y="257.80" width="31.20" height="2.45" fill="#90a0b8"/>
<rect x="296.80" y="260.20" width="31.20" height="3.55" fill="#a0b0c8"/>
<rect x="296.80" y="263.70" width="31.20" height="1.75" fill="#a08060"/>
<rect x="296.80" y="265.40" width="31.20" height="2.45" fill="#d8b890"/>
<rect x="296.80" y="267.80" width="31.20" height="1.75" fill="#e0a0a0"/>
<rect x="296.80" y="269.50" width="31.20" height="1.25" fill="#8a6a4a"/>
<rect x="296.80" y="270.70" width="31.20" height="8.75" fill="#a8c878"/>
<rect x="296.80" y="279.40" width="31.20" height="1.85" fill="#b0b890"/>
<rect x="296.80" y="281.20" width="31.20" height="1.75" fill="#b86050"/>
<rect x="296.80" y="282.90" width="31.20" height="1.85" fill="#7070a8"/>
<rect x="296.80" y="284.70" width="31.20" height="2.25" fill="#8a8a8a"/>
<rect x="296.80" y="286.90" width="31.20" height="2.65" fill="#e09050"/>
<rect x="296.80" y="289.50" width="31.20" height="1.95" fill="#6a4a80"/>
<rect x="296.80" y="291.40" width="31.20" height="3.15" fill="#5a7aa0"/>
<rect x="296.80" y="294.50" width="31.20" height="3.25" fill="#4a80b0"/>
<rect x="296.80" y="297.70" width="31.20" height="3.85" fill="#a0b040"/>
<rect x="296.80" y="301.50" width="31.20" height="1.95" fill="#4a3a60"/>
<rect x="296.80" y="303.40" width="31.20" height="3.25" fill="#6a4a90"/>
<rect x="296.80" y="306.60" width="31.20" height="1.95" fill="#8a8a8a"/>
<rect x="296.80" y="308.50" width="31.20" height="6.45" fill="#3a9aa8"/>
<rect x="296.80" y="314.90" width="31.20" height="1.95" fill="#3a4a60"/>
<rect x="296.80" y="316.80" width="31.20" height="1.95" fill="#4a6ab0"/>
<rect x="296.80" y="318.70" width="31.20" height="3.25" fill="#4a6a8a"/>
<rect x="296.80" y="321.90" width="31.20" height="2.55" fill="#6a7a98"/>
<rect x="296.80" y="324.40" width="31.20" height="3.25" fill="#4a8a7a"/>
<rect x="296.80" y="327.60" width="31.20" height="2.65" fill="#4a5a78"/>
<rect x="296.80" y="330.20" width="31.20" height="1.95" fill="#a03030"/>
<rect x="296.80" y="332.10" width="31.20" height="1.95" fill="#5a5a98"/>
<rect x="296.80" y="334.00" width="31.20" height="3.25" fill="#5a3a80"/>
<rect x="296.80" y="337.20" width="31.20" height="3.85" fill="#b03030"/>
<rect x="296.80" y="341.00" width="31.20" height="1.95" fill="#4a5a78"/>
<rect x="296.80" y="342.90" width="31.20" height="11.55" fill="#2e5a8e"/>
<line x1="228.4" y1="226.6" x2="228.4" y2="354.4" stroke="#111" stroke-width="1.4" />
<line x1="225.0" y1="354.4" x2="228.4" y2="354.4" stroke="#111" stroke-width="1.4" />
<text transform="translate(221.4,357.4) scale(0.93,1)" x="0" y="0" font-size="8.6" text-anchor="end" font-weight="normal" fill="#1c1c1c" >0</text>
<line x1="225.0" y1="329.27" x2="228.4" y2="329.27" stroke="#111" stroke-width="1.4" />
<text transform="translate(221.4,332.27) scale(0.93,1)" x="0" y="0" font-size="8.6" text-anchor="end" font-weight="normal" fill="#1c1c1c" >20</text>
<line x1="225.0" y1="304.14" x2="228.4" y2="304.14" stroke="#111" stroke-width="1.4" />
<text transform="translate(221.4,307.14) scale(0.93,1)" x="0" y="0" font-size="8.6" text-anchor="end" font-weight="normal" fill="#1c1c1c" >40</text>
<line x1="225.0" y1="279.01" x2="228.4" y2="279.01" stroke="#111" stroke-width="1.4" />
<text transform="translate(221.4,282.01) scale(0.93,1)" x="0" y="0" font-size="8.6" text-anchor="end" font-weight="normal" fill="#1c1c1c" >60</text>
<line x1="225.0" y1="253.88" x2="228.4" y2="253.88" stroke="#111" stroke-width="1.4" />
<text transform="translate(221.4,256.88) scale(0.93,1)" x="0" y="0" font-size="8.6" text-anchor="end" font-weight="normal" fill="#1c1c1c" >80</text>
<line x1="225.0" y1="228.75" x2="228.4" y2="228.75" stroke="#111" stroke-width="1.4" />
<text transform="translate(221.4,231.75) scale(0.93,1)" x="0" y="0" font-size="8.6" text-anchor="end" font-weight="normal" fill="#1c1c1c" >100</text>
<line x1="227.8" y1="354.4" x2="339.0" y2="354.4" stroke="#111" stroke-width="1.4" />
<text x="255.79" y="370.6" font-size="10.2" fill="#1c1c1c" textLength="19.72" lengthAdjust="spacingAndGlyphs">4x10</text>
<text x="275.27" y="366.2" font-size="6.6" fill="#1c1c1c" textLength="3.96" lengthAdjust="spacingAndGlyphs">5</text>
<text x="278.69" y="370.6" font-size="10.2" fill="#1c1c1c" textLength="31.72" lengthAdjust="spacingAndGlyphs">/mouse</text>
<text transform="translate(359.8,210.6) scale(0.9,1)" x="0" y="0" font-size="13.0" text-anchor="start" font-weight="bold" fill="#111" stroke="#111" stroke-width="0.3">F</text>
<text x="451.6" y="215.8" font-size="10" text-anchor="middle" font-weight="bold" fill="#111" textLength="59.1" lengthAdjust="spacingAndGlyphs" >ALL 70 - BM</text>
<text transform="translate(368.4,290.95) rotate(-90)" x="0" y="0" font-size="10.2" text-anchor="middle" fill="#1c1c1c" textLength="91.1" lengthAdjust="spacingAndGlyphs">Barcodes, hCD45<tspan font-size="7.2" dy="-3.4">+</tspan><tspan dy="3.4"> (%)</tspan></text>
<rect x="403.00" y="246.90" width="21.60" height="1.65" fill="#6a7a6a"/>
<rect x="403.00" y="248.50" width="21.60" height="1.65" fill="#b07050"/>
<rect x="403.00" y="250.10" width="21.60" height="1.65" fill="#9a7a8a"/>
<rect x="403.00" y="251.70" width="21.60" height="1.65" fill="#3a8a8a"/>
<rect x="403.00" y="253.30" width="21.60" height="1.55" fill="#5a6a80"/>
<rect x="403.00" y="254.80" width="21.60" height="2.75" fill="#3a7a98"/>
<rect x="403.00" y="257.50" width="21.60" height="1.65" fill="#5a6a80"/>
<rect x="403.00" y="259.10" width="21.60" height="1.65" fill="#c06040"/>
<rect x="403.00" y="260.70" width="21.60" height="1.65" fill="#7a5030"/>
<rect x="403.00" y="262.30" width="21.60" height="2.15" fill="#3a60a0"/>
<rect x="403.00" y="264.40" width="21.60" height="2.15" fill="#3a8a9a"/>
<rect x="403.00" y="266.50" width="21.60" height="3.25" fill="#4a4a90"/>
<rect x="403.00" y="269.70" width="21.60" height="2.15" fill="#3a60a0"/>
<rect x="403.00" y="271.80" width="21.60" height="6.95" fill="#2e5a98"/>
<rect x="403.00" y="278.70" width="21.60" height="1.15" fill="#a09070"/>
<rect x="403.00" y="279.80" width="21.60" height="1.05" fill="#8a8a40"/>
<rect x="403.00" y="280.80" width="21.60" height="3.75" fill="#6a8a40"/>
<rect x="403.00" y="284.50" width="21.60" height="2.25" fill="#a06030"/>
<rect x="403.00" y="286.70" width="21.60" height="1.55" fill="#a02a2a"/>
<rect x="403.00" y="288.20" width="21.60" height="9.05" fill="#2e5a9c"/>
<rect x="403.00" y="297.20" width="21.60" height="6.05" fill="#c07030"/>
<rect x="403.00" y="303.20" width="21.60" height="1.75" fill="#4a3a50"/>
<rect x="403.00" y="304.90" width="21.60" height="18.65" fill="#4a3a78"/>
<rect x="403.00" y="323.50" width="21.60" height="1.65" fill="#3a3a4a"/>
<rect x="403.00" y="325.10" width="21.60" height="3.95" fill="#6a8e3a"/>
<rect x="403.00" y="329.00" width="21.60" height="5.45" fill="#a02a2a"/>
<rect x="403.00" y="334.40" width="21.60" height="20.05" fill="#2e5a90"/>
<rect x="442.00" y="232.70" width="20.80" height="1.15" fill="#a0b0c0"/>
<rect x="442.00" y="233.80" width="20.80" height="2.15" fill="#c09060"/>
<rect x="442.00" y="235.90" width="20.80" height="2.15" fill="#d09040"/>
<rect x="442.00" y="238.00" width="20.80" height="1.65" fill="#8a8a40"/>
<rect x="442.00" y="239.60" width="20.80" height="4.35" fill="#6a9a3a"/>
<rect x="442.00" y="243.90" width="20.80" height="1.05" fill="#3a4a40"/>
<rect x="442.00" y="244.90" width="20.80" height="14.35" fill="#2e5a98"/>
<rect x="442.00" y="259.20" width="20.80" height="95.25" fill="#4a3a72"/>
<rect x="479.50" y="268.10" width="21.00" height="2.15" fill="#b8b8d0"/>
<rect x="479.50" y="270.20" width="21.00" height="2.65" fill="#a0a0c0"/>
<rect x="479.50" y="272.80" width="21.00" height="1.45" fill="#a8a890"/>
<rect x="479.50" y="274.20" width="21.00" height="1.75" fill="#b0c090"/>
<rect x="479.50" y="275.90" width="21.00" height="2.75" fill="#6a6a98"/>
<rect x="479.50" y="278.60" width="21.00" height="1.35" fill="#5a5a5a"/>
<rect x="479.50" y="279.90" width="21.00" height="1.85" fill="#d8a050"/>
<rect x="479.50" y="281.70" width="21.00" height="2.65" fill="#90b060"/>
<rect x="479.50" y="284.30" width="21.00" height="1.45" fill="#7a5a3a"/>
<rect x="479.50" y="285.70" width="21.00" height="1.75" fill="#c04040"/>
<rect x="479.50" y="287.40" width="21.00" height="2.25" fill="#3a70b0"/>
<rect x="479.50" y="289.60" width="21.00" height="2.35" fill="#80a080"/>
<rect x="479.50" y="291.90" width="21.00" height="2.65" fill="#6a5098"/>
<rect x="479.50" y="294.50" width="21.00" height="2.75" fill="#5a6a78"/>
<rect x="479.50" y="297.20" width="21.00" height="2.25" fill="#5a7a8a"/>
<rect x="479.50" y="299.40" width="21.00" height="2.65" fill="#3a6aa0"/>
<rect x="479.50" y="302.00" width="21.00" height="2.75" fill="#2a60a0"/>
<rect x="479.50" y="304.70" width="21.00" height="2.25" fill="#3a7a98"/>
<rect x="479.50" y="306.90" width="21.00" height="2.55" fill="#3a6a90"/>
<rect x="479.50" y="309.40" width="21.00" height="5.35" fill="#6a8a40"/>
<rect x="479.50" y="314.70" width="21.00" height="1.55" fill="#4a4a3a"/>
<rect x="479.50" y="316.20" width="21.00" height="7.35" fill="#c07030"/>
<rect x="479.50" y="323.50" width="21.00" height="4.85" fill="#2a7a90"/>
<rect x="479.50" y="328.30" width="21.00" height="7.85" fill="#6a8a3a"/>
<rect x="479.50" y="336.10" width="21.00" height="8.75" fill="#902a2a"/>
<rect x="479.50" y="344.80" width="21.00" height="9.65" fill="#2e5a90"/>
<circle cx="450.8" cy="228.7" r="1.1" fill="#111"/>
<line x1="394.8" y1="227.1" x2="394.8" y2="354.4" stroke="#111" stroke-width="1.4" />
<line x1="391.40000000000003" y1="354.4" x2="394.8" y2="354.4" stroke="#111" stroke-width="1.4" />
<text transform="translate(388.2,357.4) scale(0.93,1)" x="0" y="0" font-size="8.6" text-anchor="end" font-weight="normal" fill="#1c1c1c" >0</text>
<line x1="391.40000000000003" y1="329.27" x2="394.8" y2="329.27" stroke="#111" stroke-width="1.4" />
<text transform="translate(388.2,332.27) scale(0.93,1)" x="0" y="0" font-size="8.6" text-anchor="end" font-weight="normal" fill="#1c1c1c" >20</text>
<line x1="391.40000000000003" y1="304.14" x2="394.8" y2="304.14" stroke="#111" stroke-width="1.4" />
<text transform="translate(388.2,307.14) scale(0.93,1)" x="0" y="0" font-size="8.6" text-anchor="end" font-weight="normal" fill="#1c1c1c" >40</text>
<line x1="391.40000000000003" y1="279.01" x2="394.8" y2="279.01" stroke="#111" stroke-width="1.4" />
<text transform="translate(388.2,282.01) scale(0.93,1)" x="0" y="0" font-size="8.6" text-anchor="end" font-weight="normal" fill="#1c1c1c" >60</text>
<line x1="391.40000000000003" y1="253.88" x2="394.8" y2="253.88" stroke="#111" stroke-width="1.4" />
<text transform="translate(388.2,256.88) scale(0.93,1)" x="0" y="0" font-size="8.6" text-anchor="end" font-weight="normal" fill="#1c1c1c" >80</text>
<line x1="391.40000000000003" y1="228.75" x2="394.8" y2="228.75" stroke="#111" stroke-width="1.4" />
<text transform="translate(388.2,231.75) scale(0.93,1)" x="0" y="0" font-size="8.6" text-anchor="end" font-weight="normal" fill="#1c1c1c" >100</text>
<line x1="394.2" y1="354.4" x2="509.5" y2="354.4" stroke="#111" stroke-width="1.4" />
<text x="400.58" y="370.6" font-size="10.2" fill="#1c1c1c" textLength="27.43" lengthAdjust="spacingAndGlyphs">1.4x10</text>
<text x="428.07" y="366.3" font-size="6.6" fill="#1c1c1c" textLength="4.06" lengthAdjust="spacingAndGlyphs">4</text>
<text x="433.4" y="368.6" font-size="8.4" text-anchor="start" font-weight="normal" fill="#1c1c1c" >*</text>
<text x="437.39" y="370.6" font-size="10.2" fill="#1c1c1c" textLength="31.52" lengthAdjust="spacingAndGlyphs">-1.4x10</text>
<text x="468.67" y="366.3" font-size="6.6" fill="#1c1c1c" textLength="4.06" lengthAdjust="spacingAndGlyphs">5</text>
<text x="472.39" y="370.6" font-size="10.2" fill="#1c1c1c" textLength="30.52" lengthAdjust="spacingAndGlyphs">/mouse</text>
<text transform="translate(9.8,398.5) scale(0.9,1)" x="0" y="0" font-size="13.0" text-anchor="start" font-weight="bold" fill="#111" stroke="#111" stroke-width="0.3">G</text>
<text transform="translate(17.0,467.0) rotate(-90)" x="0" y="0" font-size="9.5" text-anchor="middle" fill="#1c1c1c" textLength="81.0" lengthAdjust="spacingAndGlyphs">Barcodes (shannon)</text>
<line x1="48.6" y1="406.9" x2="48.6" y2="531.4" stroke="#111" stroke-width="1.4" />
<line x1="45.4" y1="528.3" x2="48.6" y2="528.3" stroke="#111" stroke-width="1.4" />
<text transform="translate(41.8,531.3) scale(0.93,1)" x="0" y="0" font-size="8.6" text-anchor="end" font-weight="normal" fill="#1c1c1c" >1</text>
<line x1="46.6" y1="516.4093151712727" x2="48.6" y2="516.4093151712727" stroke="#111" stroke-width="1.0" />
<line x1="46.6" y1="509.4537104385733" x2="48.6" y2="509.4537104385733" stroke="#111" stroke-width="1.0" />
<line x1="46.6" y1="504.51863034254546" x2="48.6" y2="504.51863034254546" stroke="#111" stroke-width="1.0" />
<line x1="46.6" y1="500.6906848287272" x2="48.6" y2="500.6906848287272" stroke="#111" stroke-width="1.0" />
<line x1="46.6" y1="497.563025609846" x2="48.6" y2="497.563025609846" stroke="#111" stroke-width="1.0" />
<line x1="46.6" y1="494.9186274194368" x2="48.6" y2="494.9186274194368" stroke="#111" stroke-width="1.0" />
<line x1="46.6" y1="492.6279455138182" x2="48.6" y2="492.6279455138182" stroke="#111" stroke-width="1.0" />
<line x1="46.6" y1="490.60742087714664" x2="48.6" y2="490.60742087714664" stroke="#111" stroke-width="1.0" />
<line x1="45.4" y1="488.79999999999995" x2="48.6" y2="488.79999999999995" stroke="#111" stroke-width="1.4" />
<text transform="translate(41.8,491.79999999999995) scale(0.93,1)" x="0" y="0" font-size="8.6" text-anchor="end" font-weight="normal" fill="#1c1c1c" >10</text>
<line x1="46.6" y1="476.90931517127274" x2="48.6" y2="476.90931517127274" stroke="#111" stroke-width="1.0" />
<line x1="46.6" y1="469.95371043857335" x2="48.6" y2="469.95371043857335" stroke="#111" stroke-width="1.0" />
<line x1="46.6" y1="465.01863034254546" x2="48.6" y2="465.01863034254546" stroke="#111" stroke-width="1.0" />
<line x1="46.6" y1="461.1906848287273" x2="48.6" y2="461.1906848287273" stroke="#111" stroke-width="1.0" />
<line x1="46.6" y1="458.0630256098461" x2="48.6" y2="458.0630256098461" stroke="#111" stroke-width="1.0" />
<line x1="46.6" y1="455.41862741943686" x2="48.6" y2="455.41862741943686" stroke="#111" stroke-width="1.0" />
<line x1="46.6" y1="453.1279455138182" x2="48.6" y2="453.1279455138182" stroke="#111" stroke-width="1.0" />
<line x1="46.6" y1="451.10742087714664" x2="48.6" y2="451.10742087714664" stroke="#111" stroke-width="1.0" />
<line x1="45.4" y1="449.3" x2="48.6" y2="449.3" stroke="#111" stroke-width="1.4" />
<text transform="translate(41.8,452.3) scale(0.93,1)" x="0" y="0" font-size="8.6" text-anchor="end" font-weight="normal" fill="#1c1c1c" >100</text>
<line x1="46.6" y1="437.40931517127274" x2="48.6" y2="437.40931517127274" stroke="#111" stroke-width="1.0" />
<line x1="46.6" y1="430.45371043857335" x2="48.6" y2="430.45371043857335" stroke="#111" stroke-width="1.0" />
<line x1="46.6" y1="425.5186303425455" x2="48.6" y2="425.5186303425455" stroke="#111" stroke-width="1.0" />
<line x1="46.6" y1="421.6906848287273" x2="48.6" y2="421.6906848287273" stroke="#111" stroke-width="1.0" />
<line x1="46.6" y1="418.5630256098461" x2="48.6" y2="418.5630256098461" stroke="#111" stroke-width="1.0" />
<line x1="46.6" y1="415.91862741943686" x2="48.6" y2="415.91862741943686" stroke="#111" stroke-width="1.0" />
<line x1="46.6" y1="413.62794551381825" x2="48.6" y2="413.62794551381825" stroke="#111" stroke-width="1.0" />
<line x1="46.6" y1="411.6074208771467" x2="48.6" y2="411.6074208771467" stroke="#111" stroke-width="1.0" />
<line x1="45.4" y1="409.8" x2="48.6" y2="409.8" stroke="#111" stroke-width="1.4" />
<text transform="translate(41.8,412.8) scale(0.93,1)" x="0" y="0" font-size="8.6" text-anchor="end" font-weight="normal" fill="#1c1c1c" >1000</text>
<line x1="48.0" y1="528.3" x2="148.5" y2="528.3" stroke="#111" stroke-width="1.4" />
<polyline points="148.5,528.9 148.5,522.4 153.2,522.4 153.2,528.9" fill="none" stroke="#111" stroke-width="1.3"/>
<line x1="153.2" y1="528.3" x2="167.4" y2="528.3" stroke="#111" stroke-width="1.4" />
<line x1="48.7" y1="528.3" x2="48.7" y2="531.4" stroke="#111" stroke-width="1.4" />
<line x1="77.0" y1="528.3" x2="77.0" y2="531.4" stroke="#111" stroke-width="1.4" />
<line x1="105.30000000000001" y1="528.3" x2="105.30000000000001" y2="531.4" stroke="#111" stroke-width="1.4" />
<line x1="133.60000000000002" y1="528.3" x2="133.60000000000002" y2="531.4" stroke="#111" stroke-width="1.4" />
<line x1="161.8" y1="528.3" x2="161.8" y2="531.4" stroke="#111" stroke-width="1.4" />
<text transform="translate(48.7,541.4) scale(0.93,1)" x="0" y="0" font-size="8.6" text-anchor="middle" font-weight="normal" fill="#1c1c1c" >0</text>
<text transform="translate(77.0,541.4) scale(0.93,1)" x="0" y="0" font-size="8.6" text-anchor="middle" font-weight="normal" fill="#1c1c1c" >10</text>
<text transform="translate(105.30000000000001,541.4) scale(0.93,1)" x="0" y="0" font-size="8.6" text-anchor="middle" font-weight="normal" fill="#1c1c1c" >20</text>
<text transform="translate(133.60000000000002,541.4) scale(0.93,1)" x="0" y="0" font-size="8.6" text-anchor="middle" font-weight="normal" fill="#1c1c1c" >30</text>
<text transform="translate(161.9,541.4) scale(0.93,1)" x="0" y="0" font-size="8.6" text-anchor="middle" font-weight="normal" fill="#1c1c1c" >BM</text>
<text x="108.3" y="553.0" font-size="10.3" text-anchor="middle" font-weight="normal" fill="#1c1c1c" textLength="54.0" lengthAdjust="spacingAndGlyphs" >Time (weeks)</text>
<polyline points="59.8,431.4 71.2,440.8 82.6,440.8" fill="none" stroke="#111" stroke-width="1.6"/>
<polyline points="82.6,440.8 161.8,435.4" fill="none" stroke="#111" stroke-width="1.6" stroke-dasharray="3.1,2.7"/>
<polyline points="59.7,473.0 71.2,459.9" fill="none" stroke="#111" stroke-width="1.6"/>
<polyline points="71.2,459.9 161.8,457.4" fill="none" stroke="#111" stroke-width="1.6" stroke-dasharray="3.1,2.7"/>
<polyline points="59.7,470.3 93.9,485.3 105.4,464.6 116.2,465.2 127.8,474.3 150.2,483.1" fill="none" stroke="#111" stroke-width="1.6"/>
<polyline points="150.2,483.1 161.8,469.9" fill="none" stroke="#111" stroke-width="1.6" stroke-dasharray="3.1,2.7"/>
<line x1="82.6" y1="435.5" x2="82.6" y2="448.5" stroke="#111" stroke-width="1.1" />
<line x1="79.39999999999999" y1="435.5" x2="85.8" y2="435.5" stroke="#111" stroke-width="1.1" />
<line x1="79.39999999999999" y1="448.5" x2="85.8" y2="448.5" stroke="#111" stroke-width="1.1" />
<line x1="59.7" y1="463.3" x2="59.7" y2="482.0" stroke="#3a3a5a" stroke-width="1.1" />
<line x1="56.5" y1="463.3" x2="62.900000000000006" y2="463.3" stroke="#3a3a5a" stroke-width="1.1" />
<line x1="56.5" y1="482.0" x2="62.900000000000006" y2="482.0" stroke="#3a3a5a" stroke-width="1.1" />
<line x1="57.0" y1="477.5" x2="62.4" y2="477.5" stroke="#5a3a6a" stroke-width="1.1" />
<line x1="57.0" y1="434.7" x2="62.4" y2="434.7" stroke="#111" stroke-width="1.1" />
<line x1="161.8" y1="466.0" x2="161.8" y2="475.9" stroke="#111" stroke-width="1.1" />
<line x1="159.20000000000002" y1="466.0" x2="164.4" y2="466.0" stroke="#111" stroke-width="1.1" />
<line x1="159.20000000000002" y1="475.9" x2="164.4" y2="475.9" stroke="#111" stroke-width="1.1" />
<circle cx="59.7" cy="473.6" r="3.3" fill="#4a1e26" stroke="#0a0a0a" stroke-width="1.25"/>
<circle cx="59.85" cy="431.3" r="3.3" fill="#1c1cc8" stroke="#0a0a0a" stroke-width="1.25"/>
<line x1="57.4" y1="434.5" x2="62.3" y2="434.5" stroke="#101040" stroke-width="1.2" />
<circle cx="71.2" cy="440.8" r="3.3" fill="#1c1cc8" stroke="#0a0a0a" stroke-width="1.25"/>
<circle cx="82.6" cy="440.8" r="3.3" fill="#1c1cc8" stroke="#0a0a0a" stroke-width="1.25"/>
<circle cx="161.8" cy="435.4" r="3.3" fill="#1c1cc8" stroke="#0a0a0a" stroke-width="1.25"/>
<circle cx="71.2" cy="459.9" r="3.3" fill="#c62f2c" stroke="#0a0a0a" stroke-width="1.25"/>
<circle cx="161.8" cy="457.4" r="3.3" fill="#c62f2c" stroke="#0a0a0a" stroke-width="1.25"/>
<circle cx="59.7" cy="470.3" r="3.3" fill="#eeee58" stroke="#0a0a0a" stroke-width="1.25"/>
<circle cx="93.9" cy="485.3" r="3.3" fill="#eeee58" stroke="#0a0a0a" stroke-width="1.25"/>
<circle cx="105.4" cy="464.6" r="3.3" fill="#eeee58" stroke="#0a0a0a" stroke-width="1.25"/>
<circle cx="116.2" cy="465.2" r="3.3" fill="#eeee58" stroke="#0a0a0a" stroke-width="1.25"/>
<circle cx="127.8" cy="474.3" r="3.3" fill="#eeee58" stroke="#0a0a0a" stroke-width="1.25"/>
<circle cx="150.2" cy="483.1" r="3.3" fill="#eeee58" stroke="#0a0a0a" stroke-width="1.25"/>
<circle cx="161.8" cy="469.9" r="3.3" fill="#eeee58" stroke="#0a0a0a" stroke-width="1.25"/>
<line x1="54.8" y1="500.1" x2="67.5" y2="500.1" stroke="#111" stroke-width="1.3" />
<circle cx="61.3" cy="500.1" r="3.3" fill="#c62f2c" stroke="#0a0a0a" stroke-width="1.25"/>
<text transform="translate(71.0,502.6) scale(0.96,1)" x="0" y="0" font-size="8.2" text-anchor="start" font-weight="normal" fill="#1c1c1c" >ALL 58.1</text>
<line x1="54.8" y1="510.6" x2="67.5" y2="510.6" stroke="#111" stroke-width="1.3" />
<circle cx="61.3" cy="510.6" r="3.3" fill="#1c1cc8" stroke="#0a0a0a" stroke-width="1.25"/>
<text transform="translate(71.0,513.1) scale(0.96,1)" x="0" y="0" font-size="8.2" text-anchor="start" font-weight="normal" fill="#1c1c1c" >ALL 58.2</text>
<line x1="54.8" y1="521.2" x2="67.5" y2="521.2" stroke="#111" stroke-width="1.3" />
<circle cx="61.3" cy="521.2" r="3.3" fill="#eeee58" stroke="#0a0a0a" stroke-width="1.25"/>
<text transform="translate(71.0,523.7) scale(0.96,1)" x="0" y="0" font-size="8.2" text-anchor="start" font-weight="normal" fill="#1c1c1c" >ALL 70</text>
<text transform="translate(189.6,398.5) scale(0.9,1)" x="0" y="0" font-size="13.0" text-anchor="start" font-weight="bold" fill="#111" stroke="#111" stroke-width="0.3">H</text>
<text transform="translate(197.5,471.65) rotate(-90)" x="0" y="0" font-size="9.5" text-anchor="middle" fill="#1c1c1c" textLength="80.5" lengthAdjust="spacingAndGlyphs">Barcodes (shannon)</text>
<line x1="228.5" y1="414.6" x2="228.5" y2="531.6" stroke="#111" stroke-width="1.4" />
<line x1="225.3" y1="528.7" x2="228.5" y2="528.7" stroke="#111" stroke-width="1.4" />
<text transform="translate(222.2,531.7) scale(0.93,1)" x="0" y="0" font-size="8.6" text-anchor="end" font-weight="normal" fill="#1c1c1c" >1</text>
<line x1="225.3" y1="491.73333333333335" x2="228.5" y2="491.73333333333335" stroke="#111" stroke-width="1.4" />
<text transform="translate(222.2,494.73333333333335) scale(0.93,1)" x="0" y="0" font-size="8.6" text-anchor="end" font-weight="normal" fill="#1c1c1c" >10</text>
<line x1="225.3" y1="454.7666666666667" x2="228.5" y2="454.7666666666667" stroke="#111" stroke-width="1.4" />
<text transform="translate(222.2,457.7666666666667) scale(0.93,1)" x="0" y="0" font-size="8.6" text-anchor="end" font-weight="normal" fill="#1c1c1c" >100</text>
<line x1="225.3" y1="417.8" x2="228.5" y2="417.8" stroke="#111" stroke-width="1.4" />
<text transform="translate(222.2,420.8) scale(0.93,1)" x="0" y="0" font-size="8.6" text-anchor="end" font-weight="normal" fill="#1c1c1c" >1000</text>
<line x1="227.9" y1="528.7" x2="341.5" y2="528.7" stroke="#111" stroke-width="1.4" />
<line x1="228.5" y1="528.7" x2="228.5" y2="531.6" stroke="#111" stroke-width="1.4" />
<text transform="translate(228.8,544.4) scale(0.93,1)" x="0" y="0" font-size="8.6" text-anchor="middle" font-weight="normal" fill="#1c1c1c" >10<tspan font-size="6.2" dy="-3.6">4</tspan></text>
<line x1="283.85" y1="528.7" x2="283.85" y2="531.6" stroke="#111" stroke-width="1.4" />
<text transform="translate(284.15000000000003,544.4) scale(0.93,1)" x="0" y="0" font-size="8.6" text-anchor="middle" font-weight="normal" fill="#1c1c1c" >10<tspan font-size="6.2" dy="-3.6">5</tspan></text>
<line x1="339.2" y1="528.7" x2="339.2" y2="531.6" stroke="#111" stroke-width="1.4" />
<text transform="translate(339.5,544.4) scale(0.93,1)" x="0" y="0" font-size="8.6" text-anchor="middle" font-weight="normal" fill="#1c1c1c" >10<tspan font-size="6.2" dy="-3.6">6</tspan></text>
<text x="285.3" y="556.3" font-size="10.3" text-anchor="middle" font-weight="normal" fill="#1c1c1c" textLength="37.2" lengthAdjust="spacingAndGlyphs" >Cell dose</text>
<polyline points="258.9,467.4 317.3,449.6" fill="none" stroke="#111" stroke-width="1.6"/>
<polyline points="236.5,513.0 291.9,475.0" fill="none" stroke="#111" stroke-width="1.6"/>
<circle cx="258.9" cy="476.2" r="3.5" fill="#c62f2c" stroke="#0a0a0a" stroke-width="1.25"/>
<circle cx="258.9" cy="472.7" r="3.5" fill="#c62f2c" stroke="#0a0a0a" stroke-width="1.25"/>
<circle cx="258.9" cy="464.6" r="3.5" fill="#c62f2c" stroke="#0a0a0a" stroke-width="1.25"/>
<circle cx="258.9" cy="460.0" r="3.5" fill="#c62f2c" stroke="#0a0a0a" stroke-width="1.25"/>
<circle cx="317.3" cy="461.6" r="3.5" fill="#c62f2c" stroke="#0a0a0a" stroke-width="1.25"/>
<circle cx="317.3" cy="457.7" r="3.5" fill="#c62f2c" stroke="#0a0a0a" stroke-width="1.25"/>
<circle cx="317.3" cy="452.4" r="3.5" fill="#c62f2c" stroke="#0a0a0a" stroke-width="1.25"/>
<circle cx="317.3" cy="446.2" r="3.5" fill="#c62f2c" stroke="#0a0a0a" stroke-width="1.25"/>
<circle cx="317.3" cy="440.4" r="3.5" fill="#c62f2c" stroke="#0a0a0a" stroke-width="1.25"/>
<circle cx="291.9" cy="480.3" r="3.5" fill="#eeee58" stroke="#0a0a0a" stroke-width="1.25"/>
<circle cx="291.9" cy="475.0" r="3.5" fill="#eeee58" stroke="#0a0a0a" stroke-width="1.25"/>
<circle cx="291.9" cy="469.7" r="3.5" fill="#eeee58" stroke="#0a0a0a" stroke-width="1.25"/>
<circle cx="236.5" cy="515.9" r="3.5" fill="#eeee58" stroke="#0a0a0a" stroke-width="1.25"/>
<circle cx="236.5" cy="511.9" r="3.5" fill="#eeee58" stroke="#0a0a0a" stroke-width="1.25"/>
<circle cx="305.8" cy="505.0" r="3.5" fill="#c62f2c" stroke="#0a0a0a" stroke-width="1.25"/>
<circle cx="305.8" cy="517.2" r="3.5" fill="#eeee58" stroke="#0a0a0a" stroke-width="1.25"/>
<text transform="translate(312.7,507.7) scale(0.96,1)" x="0" y="0" font-size="8.2" text-anchor="start" font-weight="normal" fill="#1c1c1c" >ALL 58</text>
<text transform="translate(312.7,519.9) scale(0.96,1)" x="0" y="0" font-size="8.2" text-anchor="start" font-weight="normal" fill="#1c1c1c" >ALL 70</text>
<text transform="translate(359.8,398.5) scale(0.9,1)" x="0" y="0" font-size="13.0" text-anchor="start" font-weight="bold" fill="#111" stroke="#111" stroke-width="0.3">I</text>
<text transform="translate(375.4,471.7) rotate(-90)" x="0" y="0" font-size="9.5" text-anchor="middle" fill="#1c1c1c" textLength="81.4" lengthAdjust="spacingAndGlyphs">LPC frequency (10<tspan font-size="7" dy="-3.2">x</tspan><tspan dy="3.2">)</tspan></text>
<line x1="395.0" y1="415.0" x2="395.0" y2="531.2" stroke="#111" stroke-width="1.4" />
<line x1="391.8" y1="418.0" x2="395.0" y2="418.0" stroke="#111" stroke-width="1.4" />
<text transform="translate(388.6,421.0) scale(0.93,1)" x="0" y="0" font-size="8.6" text-anchor="end" font-weight="normal" fill="#1c1c1c" >-2</text>
<line x1="391.8" y1="454.73333333333335" x2="395.0" y2="454.73333333333335" stroke="#111" stroke-width="1.4" />
<text transform="translate(388.6,457.73333333333335) scale(0.93,1)" x="0" y="0" font-size="8.6" text-anchor="end" font-weight="normal" fill="#1c1c1c" >-3</text>
<line x1="391.8" y1="491.4666666666667" x2="395.0" y2="491.4666666666667" stroke="#111" stroke-width="1.4" />
<text transform="translate(388.6,494.4666666666667) scale(0.93,1)" x="0" y="0" font-size="8.6" text-anchor="end" font-weight="normal" fill="#1c1c1c" >-4</text>
<line x1="391.8" y1="528.2" x2="395.0" y2="528.2" stroke="#111" stroke-width="1.4" />
<text transform="translate(388.6,531.2) scale(0.93,1)" x="0" y="0" font-size="8.6" text-anchor="end" font-weight="normal" fill="#1c1c1c" >-5</text>
<line x1="394.4" y1="528.2" x2="510.6" y2="528.2" stroke="#111" stroke-width="1.4" />
<line x1="395.0" y1="528.2" x2="395.0" y2="531.2" stroke="#111" stroke-width="1.4" />
<text transform="translate(395.3,544.4) scale(0.93,1)" x="0" y="0" font-size="8.6" text-anchor="middle" font-weight="normal" fill="#1c1c1c" >10<tspan font-size="6.2" dy="-3.6">4</tspan></text>
<line x1="450.4" y1="528.2" x2="450.4" y2="531.2" stroke="#111" stroke-width="1.4" />
<text transform="translate(450.7,544.4) scale(0.93,1)" x="0" y="0" font-size="8.6" text-anchor="middle" font-weight="normal" fill="#1c1c1c" >10<tspan font-size="6.2" dy="-3.6">5</tspan></text>
<line x1="505.8" y1="528.2" x2="505.8" y2="531.2" stroke="#111" stroke-width="1.4" />
<text transform="translate(506.1,544.4) scale(0.93,1)" x="0" y="0" font-size="8.6" text-anchor="middle" font-weight="normal" fill="#1c1c1c" >10<tspan font-size="6.2" dy="-3.6">6</tspan></text>
<text x="452.0" y="556.3" font-size="10.3" text-anchor="middle" font-weight="normal" fill="#1c1c1c" textLength="36.4" lengthAdjust="spacingAndGlyphs" >Cell dose</text>
<polyline points="425.5,454.5 483.75,472.5" fill="none" stroke="#111" stroke-width="1.6"/>
<polyline points="403.75,483.25 458.75,482.0" fill="none" stroke="#111" stroke-width="1.6"/>
<circle cx="425.5" cy="458.75" r="3.5" fill="#c62f2c" stroke="#0a0a0a" stroke-width="1.25"/>
<circle cx="425.5" cy="456.25" r="3.5" fill="#c62f2c" stroke="#0a0a0a" stroke-width="1.25"/>
<circle cx="425.5" cy="447.5" r="3.5" fill="#c62f2c" stroke="#0a0a0a" stroke-width="1.25"/>
<circle cx="425.5" cy="443.75" r="3.5" fill="#c62f2c" stroke="#0a0a0a" stroke-width="1.25"/>
<circle cx="483.75" cy="484.25" r="3.5" fill="#c62f2c" stroke="#0a0a0a" stroke-width="1.25"/>
<circle cx="483.75" cy="480.0" r="3.5" fill="#c62f2c" stroke="#0a0a0a" stroke-width="1.25"/>
<circle cx="483.75" cy="475.0" r="3.5" fill="#c62f2c" stroke="#0a0a0a" stroke-width="1.25"/>
<circle cx="483.75" cy="468.75" r="3.5" fill="#c62f2c" stroke="#0a0a0a" stroke-width="1.25"/>
<circle cx="483.75" cy="462.5" r="3.5" fill="#c62f2c" stroke="#0a0a0a" stroke-width="1.25"/>
<circle cx="403.75" cy="484.5" r="3.5" fill="#eeee58" stroke="#0a0a0a" stroke-width="1.25"/>
<circle cx="403.75" cy="480.5" r="3.5" fill="#eeee58" stroke="#0a0a0a" stroke-width="1.25"/>
<circle cx="458.75" cy="486.25" r="3.5" fill="#eeee58" stroke="#0a0a0a" stroke-width="1.25"/>
<circle cx="458.75" cy="481.25" r="3.5" fill="#eeee58" stroke="#0a0a0a" stroke-width="1.25"/>
<circle cx="458.75" cy="476.25" r="3.5" fill="#eeee58" stroke="#0a0a0a" stroke-width="1.25"/>
<circle cx="473.25" cy="505.0" r="3.5" fill="#c62f2c" stroke="#0a0a0a" stroke-width="1.25"/>
<circle cx="473.25" cy="517.0" r="3.5" fill="#eeee58" stroke="#0a0a0a" stroke-width="1.25"/>
<text transform="translate(479.8,507.7) scale(0.96,1)" x="0" y="0" font-size="8.2" text-anchor="start" font-weight="normal" fill="#1c1c1c" >ALL 58</text>
<text transform="translate(479.8,519.7) scale(0.96,1)" x="0" y="0" font-size="8.2" text-anchor="start" font-weight="normal" fill="#1c1c1c" >ALL 70</text>
<rect x="0.75" y="0.75" width="518.5" height="564.5" fill="none" stroke="#000" stroke-width="1.5"/>
</g>
</svg>
</body></html>
